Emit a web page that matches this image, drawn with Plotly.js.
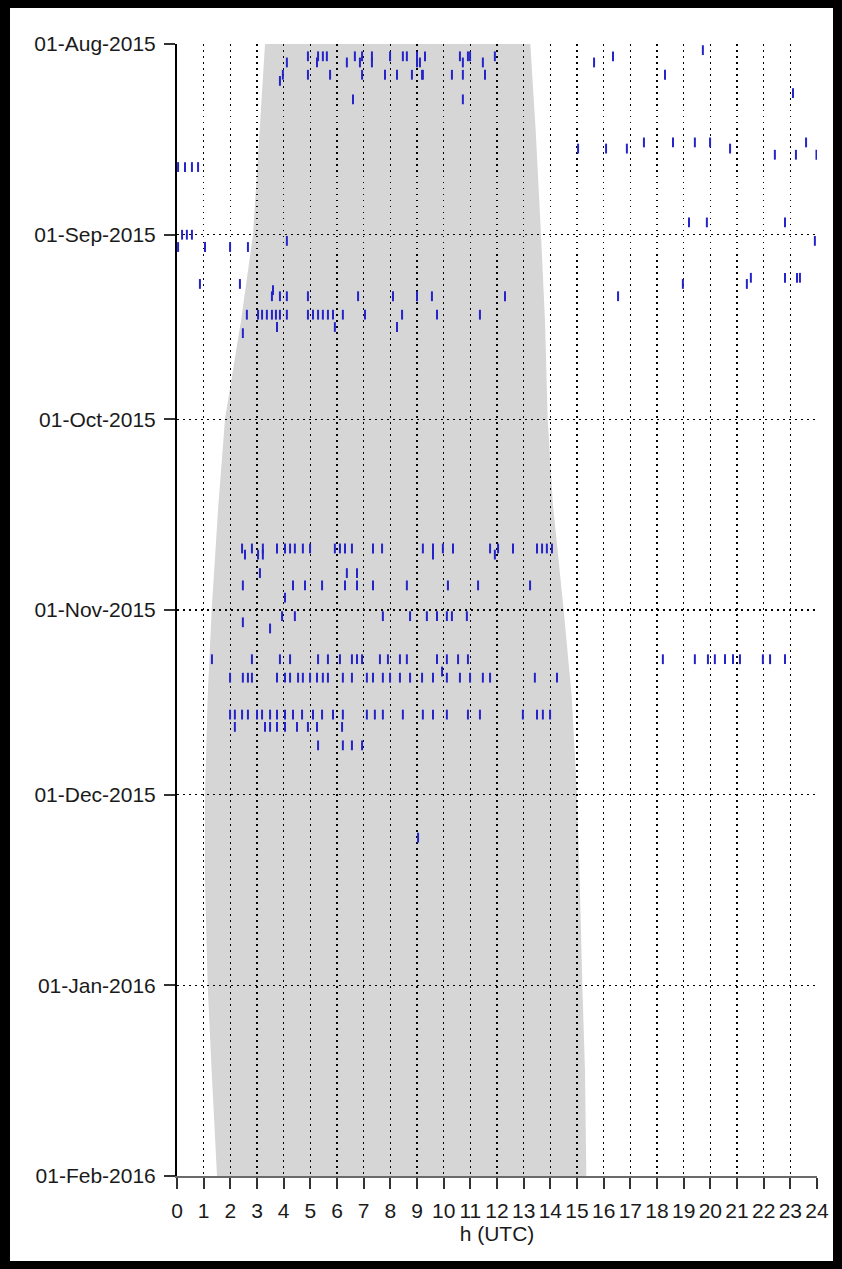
<!DOCTYPE html>
<html>
<head>
<meta charset="utf-8">
<script src="https://cdn.plot.ly/plotly-3.0.1.min.js"></script>
<style>
  html, body { margin: 0; padding: 0; background: #000; width: 842px; height: 1269px; overflow: hidden; }
  #plot { position: absolute; left: 10px; top: 8px; width: 823px; height: 1253px; background: #fff; }
</style>
</head>
<body>
<div id="plot"></div>
<script>
// ---- Daylight band (sunrise / sunset, h UTC) ----
const shadeDates = ['2015-08-01','2015-08-15','2015-09-01','2015-09-15','2015-10-01','2015-10-15','2015-11-01','2015-11-15','2015-12-01','2015-12-15','2016-01-01','2016-01-15','2016-02-01'];
const sunrise    = [3.30, 3.10, 2.85, 2.40, 1.80, 1.55, 1.30, 1.15, 1.05, 1.05, 1.15, 1.30, 1.50];
const sunset     = [13.25, 13.45, 13.65, 13.80, 13.90, 14.10, 14.50, 14.80, 15.00, 15.10, 15.20, 15.30, 15.35];

// ---- Detections: one date per row, hours (UTC) for each row ----
const rowDates = ['2015-08-02','2015-08-03','2015-08-04','2015-08-06','2015-08-07','2015-08-09','2015-08-10',
  '2015-08-17','2015-08-18','2015-08-19','2015-08-21','2015-08-30','2015-09-01','2015-09-02','2015-09-03',
  '2015-09-08','2015-09-09','2015-09-10','2015-09-11','2015-09-14','2015-09-16','2015-09-17',
  '2015-10-22','2015-10-23','2015-10-26','2015-10-28','2015-10-30','2015-11-02','2015-11-03','2015-11-04',
  '2015-11-09','2015-11-11','2015-11-12','2015-11-18','2015-11-20','2015-11-23','2015-12-08'];
const rowHours = [
  [19.72],
  [4.91,5.29,5.47,5.62,6.67,6.94,7.31,7.99,8.47,8.62,9.0,9.3,10.61,10.91,10.99,11.92,16.35],
  [4.12,5.25,6.37,6.86,7.31,9.0,9.11,10.72,11.47,15.64],
  [3.97,4.91,5.74,6.94,7.8,8.25,8.81,9.19,9.22,10.31,10.72,11.55,18.3],
  [3.86],
  [23.1],
  [6.6,10.72],
  [17.51,18.6,19.42,19.99,23.59],
  [15.04,16.09,16.87,20.74],
  [22.42,23.21,23.98],
  [0.04,0.3,0.56,0.79],
  [19.2,19.87,22.8],
  [0.19,0.37,0.56],
  [4.12,23.92],
  [0.04,1.05,1.99,2.66],
  [21.52,22.8,23.25,23.36],
  [0.86,2.36,18.97,21.37],
  [3.6],
  [3.56,3.86,4.12,4.91,6.79,8.1,9.0,9.56,12.3,16.54],
  [2.62,3.04,3.19,3.37,3.56,3.71,3.86,4.12,4.91,5.1,5.29,5.47,5.66,5.85,6.22,7.05,8.44,9.75,11.36],
  [3.75,5.92,8.25],
  [2.47],
  [2.44,2.81,3.22,3.75,4.05,4.24,4.42,4.72,4.99,5.92,6.11,6.3,6.56,7.35,7.69,9.22,9.6,9.97,10.35,11.74,12.04,12.6,13.5,13.69,13.87,14.06],
  [2.55,3.04,3.22,9.6,11.92],
  [3.11,6.37,6.75],
  [2.47,4.35,4.8,5.44,6.3,6.75,7.35,8.62,10.16,11.29,13.24],
  [4.05],
  [3.94,4.42,7.72,8.74,9.37,9.75,10.12,10.31,10.87],
  [2.47],
  [3.49],
  [1.31,2.81,3.86,4.24,5.29,5.66,6.11,6.56,6.75,6.94,7.61,7.91,8.36,8.62,9.75,10.12,10.54,10.91,18.22,19.42,19.91,20.17,20.55,20.85,21.11,21.97,22.24,22.8],
  [9.94],
  [1.99,2.47,2.66,2.81,3.75,4.05,4.24,4.54,4.72,4.99,5.25,5.47,5.66,6.22,6.56,7.12,7.35,7.72,7.99,8.36,8.74,9.19,9.6,10.12,10.61,10.99,11.47,11.74,13.42,14.25],
  [1.99,2.17,2.44,2.66,3.0,3.19,3.49,3.75,4.05,4.35,4.69,5.1,5.44,5.85,6.22,7.12,7.42,7.72,8.47,9.22,9.6,10.12,10.91,11.36,12.97,13.5,13.72,13.99],
  [2.17,3.3,3.49,3.75,4.05,4.5,4.91,5.25,6.19],
  [5.29,6.22,6.56,6.94],
  [9.04]
];

// ---- Axis ticks ----
const monthTicks  = ['2015-08-01','2015-09-01','2015-10-01','2015-11-01','2015-12-01','2016-01-01','2016-02-01'];
const monthLabels = ['01-Aug-2015','01-Sep-2015','01-Oct-2015','01-Nov-2015','01-Dec-2015','01-Jan-2016','01-Feb-2016'];

// flatten detections
const detX = [], detY = [];
rowDates.forEach((d, i) => rowHours[i].forEach(h => { detX.push(h); detY.push(d); }));

// daylight polygon path (data coordinates)
let path = 'M' + sunrise[0] + ',' + shadeDates[0];
for (let i = 1; i < shadeDates.length; i++) path += ' L' + sunrise[i] + ',' + shadeDates[i];
for (let i = shadeDates.length - 1; i >= 0; i--) path += ' L' + sunset[i] + ',' + shadeDates[i];
path += ' Z';

const FONT = 'Liberation Sans, Arial, sans-serif';

const traces = [{
  type: 'scatter', mode: 'markers', x: detX, y: detY,
  marker: { symbol: 'line-ns-open', size: 7, color: '#2424c8', line: { width: 2, color: '#2424c8' } },
  hoverinfo: 'x+y', showlegend: false
}];

const layout = {
  width: 823, height: 1253,
  margin: { l: 167, r: 16, t: 36, b: 85 },
  paper_bgcolor: '#fff', plot_bgcolor: '#fff',
  showlegend: false,
  font: { family: FONT, size: 21, color: '#1a1a1a' },
  xaxis: {
    range: [0, 24], dtick: 1, tick0: 0,
    showgrid: true, gridcolor: '#000', griddash: '1.5px,4.5px', gridwidth: 1.5,
    zeroline: false,
    showline: true, linecolor: '#6a6a6a', linewidth: 2,
    ticks: 'outside', ticklen: 11, tickwidth: 2, tickcolor: '#333',
    ticklabelstandoff: 4,
    tickfont: { family: FONT, size: 21, color: '#1a1a1a' },
    title: { text: 'h (UTC)', font: { family: FONT, size: 21, color: '#1a1a1a' }, standoff: 4 }
  },
  yaxis: {
    type: 'date',
    range: ['2016-02-01', '2015-08-01'],
    tickmode: 'array', tickvals: monthTicks, ticktext: monthLabels,
    showgrid: true, gridcolor: '#000', griddash: '1.5px,4.5px', gridwidth: 1.5,
    zeroline: false,
    showline: true, linecolor: '#000', linewidth: 2,
    ticks: 'outside', ticklen: 11, tickwidth: 2, tickcolor: '#333',
    ticklabelstandoff: 4,
    tickfont: { family: FONT, size: 21, color: '#1a1a1a' }
  },
  shapes: [{
    type: 'path', xref: 'x', yref: 'y', path: path,
    fillcolor: '#d6d6d6', line: { width: 0 }, layer: 'below'
  }]
};

Plotly.newPlot('plot', traces, layout, { displayModeBar: false, staticPlot: true });
</script>
</body>
</html>
